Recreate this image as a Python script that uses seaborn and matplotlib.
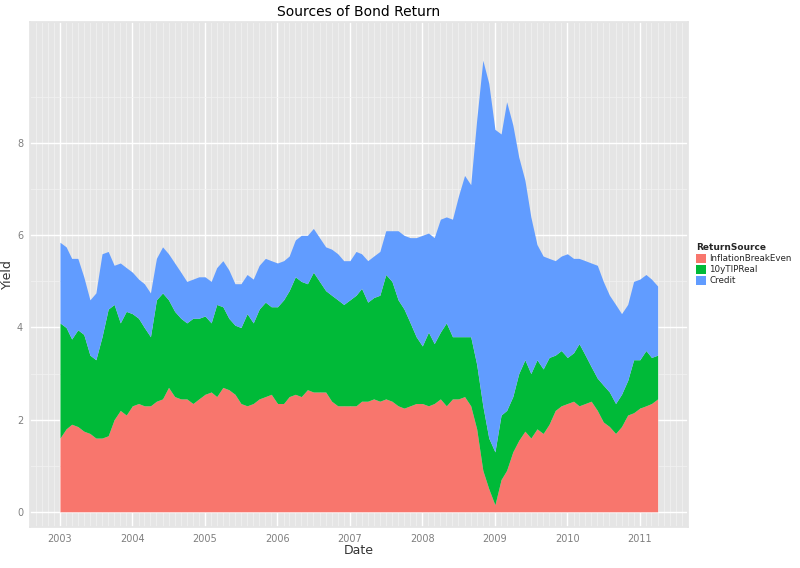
import numpy as np
import pandas as pd
import seaborn as sns
import matplotlib.pyplot as plt
import matplotlib.dates as mdates

# monthly, Jan 2003 .. Apr 2011; cumulative tops
dates = pd.date_range("2003-01-01", "2011-04-01", freq="MS")

inflation_top = [
    1.6, 1.8, 1.9, 1.85, 1.75, 1.7, 1.6, 1.6, 1.65, 2.0, 2.2, 2.1,
    2.3, 2.35, 2.3, 2.3, 2.4, 2.45, 2.7, 2.5, 2.45, 2.45, 2.35, 2.45,
    2.55, 2.6, 2.5, 2.7, 2.65, 2.55, 2.35, 2.3, 2.35, 2.45, 2.5, 2.55,
    2.35, 2.35, 2.5, 2.55, 2.5, 2.65, 2.6, 2.6, 2.6, 2.4, 2.3, 2.3,
    2.3, 2.3, 2.4, 2.4, 2.45, 2.4, 2.45, 2.4, 2.3, 2.25, 2.3, 2.35,
    2.35, 2.3, 2.35, 2.45, 2.3, 2.45, 2.45, 2.5, 2.3, 1.8, 0.9, 0.5,
    0.15, 0.7, 0.9, 1.3, 1.55, 1.75, 1.6, 1.8, 1.7, 1.9, 2.2, 2.3,
    2.35, 2.4, 2.3, 2.35, 2.4, 2.2, 1.95, 1.85, 1.7, 1.85, 2.1, 2.15,
    2.25, 2.3, 2.35, 2.45]
tip_top = [
    4.1, 4.0, 3.75, 3.95, 3.85, 3.4, 3.3, 3.8, 4.4, 4.5, 4.1, 4.35,
    4.3, 4.2, 4.0, 3.8, 4.6, 4.75, 4.6, 4.35, 4.2, 4.1, 4.2, 4.2,
    4.25, 4.1, 4.5, 4.45, 4.2, 4.05, 4.0, 4.3, 4.1, 4.4, 4.55, 4.45,
    4.45, 4.6, 4.8, 5.1, 5.0, 4.95, 5.2, 5.0, 4.8, 4.7, 4.6, 4.5,
    4.6, 4.7, 4.85, 4.55, 4.65, 4.7, 5.15, 5.0, 4.6, 4.4, 4.1, 3.8,
    3.6, 3.9, 3.65, 3.9, 4.1, 3.8, 3.8, 3.8, 3.8, 3.2, 2.3, 1.6,
    1.3, 2.1, 2.2, 2.5, 3.0, 3.3, 3.0, 3.3, 3.1, 3.35, 3.4, 3.5,
    3.35, 3.45, 3.65, 3.4, 3.15, 2.9, 2.75, 2.6, 2.35, 2.55, 2.85, 3.3,
    3.3, 3.5, 3.35, 3.4]
credit_top = [
    5.85, 5.75, 5.5, 5.5, 5.1, 4.6, 4.75, 5.6, 5.65, 5.35, 5.4, 5.3,
    5.2, 5.05, 4.95, 4.75, 5.5, 5.75, 5.6, 5.4, 5.2, 5.0, 5.05, 5.1,
    5.1, 5.0, 5.3, 5.45, 5.25, 4.95, 4.95, 5.15, 5.05, 5.35, 5.5, 5.45,
    5.4, 5.45, 5.55, 5.9, 6.0, 6.0, 6.15, 5.95, 5.75, 5.7, 5.6, 5.45,
    5.45, 5.65, 5.6, 5.45, 5.55, 5.65, 6.1, 6.1, 6.1, 6.0, 5.95, 5.95,
    6.0, 6.05, 5.95, 6.35, 6.4, 6.35, 6.85, 7.3, 7.1, 8.5, 9.8, 9.3,
    8.3, 8.2, 8.9, 8.4, 7.7, 7.2, 6.4, 5.8, 5.55, 5.5, 5.45, 5.55,
    5.6, 5.5, 5.5, 5.45, 5.4, 5.35, 5.0, 4.7, 4.5, 4.3, 4.5, 5.0,
    5.05, 5.15, 5.05, 4.9]

sources = ["InflationBreakEven", "10yTIPReal", "Credit"]
colors = ["#F8766D", "#00BA38", "#619CFF"]

tops = np.array([inflation_top, tip_top, credit_top])
parts = np.vstack([tops[0], np.diff(tops, axis=0)])

sns.set_theme(style="darkgrid", rc={
    "axes.facecolor": "#E5E5E5", "grid.color": "white",
    "axes.edgecolor": "#E5E5E5", "font.family": "DejaVu Sans"})

fig = plt.figure(figsize=(8, 5.68), dpi=100)
ax = fig.add_axes([30 / 800, 41 / 568, 658 / 800, 505 / 568])
ax.stackplot(dates, parts, colors=colors, labels=sources, linewidth=0)

ax.set_xlim(mdates.datestr2num("2002-08-03"), mdates.datestr2num("2011-09-01"))
ax.set_ylim(-0.33, 10.63)
ax.xaxis.set_major_locator(mdates.YearLocator())
ax.xaxis.set_major_formatter(mdates.DateFormatter("%Y"))
ax.xaxis.set_minor_locator(mdates.MonthLocator())
ax.set_yticks([0, 2, 4, 6, 8])
ax.set_yticks([1, 3, 5, 7, 9], minor=True)
ax.grid(True, which="major", color="white", linewidth=1.0)
ax.grid(True, which="minor", color="#F2F2F2", linewidth=0.5)
ax.set_axisbelow(True)
ax.tick_params(axis="both", which="major", labelsize=7, colors="#7F7F7F",
               length=3, color="#7F7F7F", pad=2)
ax.tick_params(which="minor", length=0)
ax.set_xlabel("Date", fontsize=9, color="#333333", labelpad=0)
ax.set_ylabel("Yield", fontsize=9, color="#333333", labelpad=2)
ax.set_title("Sources of Bond Return", fontsize=10, color="black", pad=4)

leg = ax.legend(loc="center left", bbox_to_anchor=(1.003, 0.52), frameon=False,
                title="ReturnSource", fontsize=6.3, handlelength=1.1,
                handleheight=1.3, labelspacing=0.15, handletextpad=0.4,
                borderpad=0.2)
leg.get_title().set_fontweight("bold")
leg.get_title().set_fontsize(6.5)
leg._legend_box.align = "left"

fig.savefig("out.png", dpi=100)
